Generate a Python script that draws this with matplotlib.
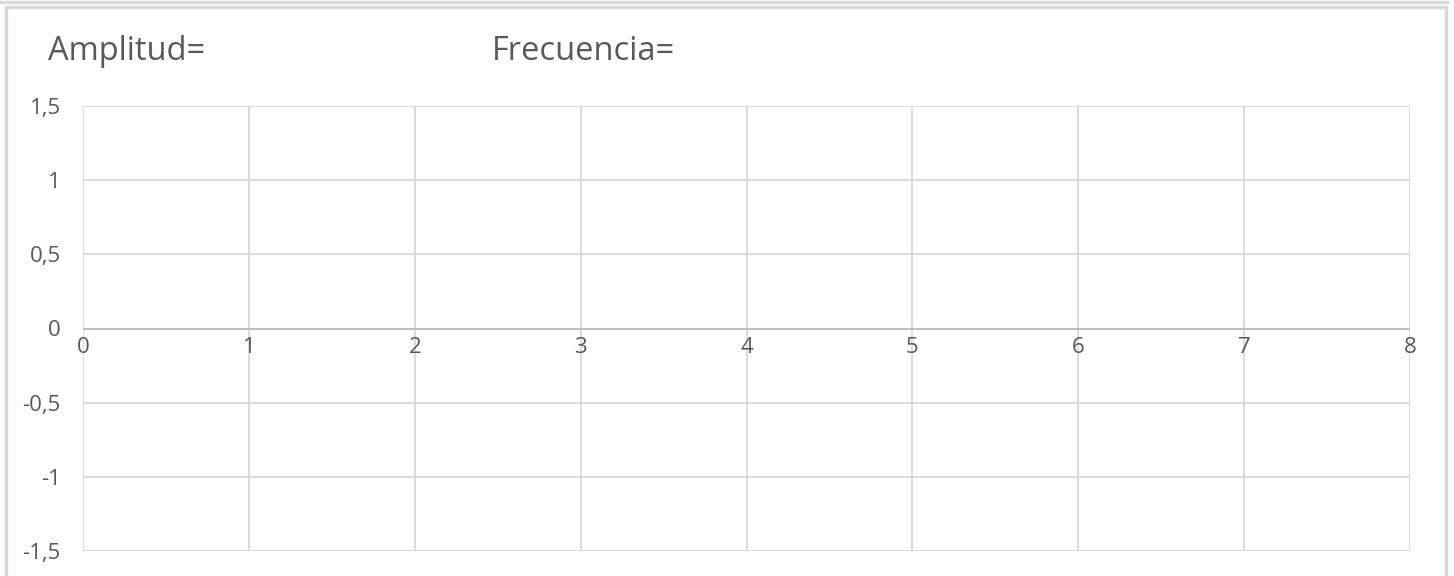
import numpy as np
import matplotlib.pyplot as plt
from matplotlib.lines import Line2D
from matplotlib.patches import Rectangle

plt.rcParams['font.family'] = ['Open Sans', 'DejaVu Sans']

# Ejes del gráfico vacío (plantilla para dibujar la onda)
x_ticks = [0, 1, 2, 3, 4, 5, 6, 7, 8]
y_ticks = [-1.5, -1, -0.5, 0, 0.5, 1, 1.5]
y_labels = ['-1,5', '-1', '-0,5', '0', '0,5', '1', '1,5']
x_labels = ['0', '1', '2', '3', '4', '5', '6', '7', '8']

grid_color = '#d9d9d9'
text_color = '#595959'

W, H = 1454, 576
fig = plt.figure(figsize=(W / 100, H / 100), dpi=100)

# marco del área del gráfico
fig.add_artist(Line2D([0, 1447 / W], [1 - 2 / H, 1 - 2 / H], color=grid_color, lw=2.5,
                      transform=fig.transFigure))
fig.add_artist(Rectangle((6 / W, -0.05), 1440 / W, 1 - 7 / H + 0.05, fill=False,
                         edgecolor=grid_color, lw=2.5, transform=fig.transFigure))

left, right, top, bottom = 83, 1410, 106, 551
ax = fig.add_axes([left / W, 1 - bottom / H, (right - left) / W, (bottom - top) / H])
ax.set_xlim(x_ticks[0], x_ticks[-1])
ax.set_ylim(y_ticks[0], y_ticks[-1])

for x in x_ticks:
    ax.axvline(x, color=grid_color, lw=1.3, zorder=1)
for y in y_ticks:
    ax.axhline(y, color=grid_color, lw=1.3, zorder=1)
ax.axhline(0, color='#bfbfbf', lw=1.5, zorder=2)

for s in ax.spines.values():
    s.set_visible(False)

ax.set_yticks(y_ticks)
ax.set_yticklabels(y_labels)
ax.set_xticks([])
ax.tick_params(axis='y', length=0, pad=16, labelsize=16, labelcolor=text_color)

# etiquetas del eje x sobre la línea del cero
for x, lab in zip(x_ticks, x_labels):
    ax.annotate(lab, (x, 0), xytext=(0, -13.5), textcoords='offset points',
                ha='center', va='center', fontsize=16, color=text_color)

fig.text(48 / W, 1 - 52 / H, 'Amplitud=', fontsize=23.5, color=text_color, va='center')
fig.text(492 / W, 1 - 52 / H, 'Frecuencia=', fontsize=23.5, color=text_color, va='center')

fig.savefig('out.png', dpi=100, facecolor='white')
